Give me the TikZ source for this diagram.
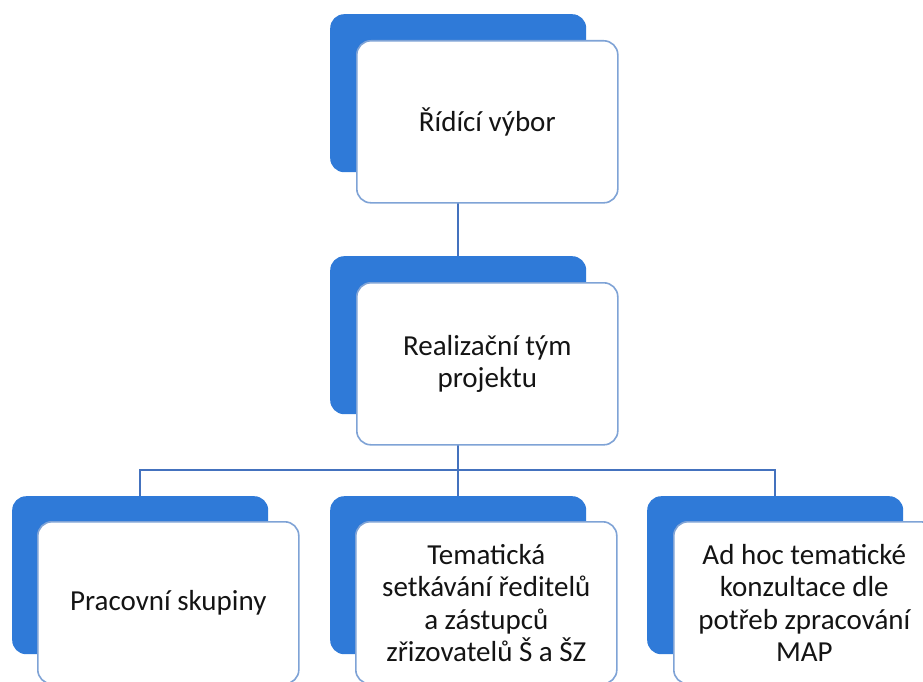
\documentclass[tikz,border=0pt]{standalone}
\usepackage{fontspec}
\setmainfont{Carlito}
\definecolor{boxblue}{HTML}{2F7AD8}
\definecolor{edgeblue}{HTML}{7FA3D6}
\definecolor{linkblue}{HTML}{4472BE}
\definecolor{txt}{HTML}{141414}
\tikzset{
  backbox/.style={fill=boxblue, draw=none, rounded corners=14pt, minimum width=256pt, minimum height=158pt, anchor=north west, inner sep=0pt},
  frontbox/.style={fill=white, draw=edgeblue, line width=1.6pt, rounded corners=14pt, minimum width=261pt, minimum height=162pt, anchor=north west, inner sep=0pt, align=center, text=txt, font=\fontsize{29}{32.5}\selectfont},
  link/.style={draw=linkblue, line width=1.7pt}
}
\begin{document}
\begin{tikzpicture}[x=1pt, y=-1pt]
\clip (0,0) rectangle (923,682);
\fill[white] (0,0) rectangle (923,682);
% back boxes
\node[backbox] (topb) at (330,14) {};
\node[backbox] (midb) at (330,256) {};
\node[backbox] (b1b) at (12,496) {};
\node[backbox] (b2b) at (330,496) {};
\node[backbox] (b3b) at (647,496) {};
% connectors
\draw[link] (topb.center |- 0,203) -- (midb.north);
\coordinate (split) at (midb.center |- 0,470);
\draw[link] (midb.center |- 0,444) -- (split);
\draw[link] (b1b.north) -- (b1b.north |- split) -- (b3b.north |- split) -- (b3b.north);
\draw[link] (split) -- (b2b.north);
% front boxes
\node[frontbox] (top) at (356,40) {Řídící výbor};
\node[frontbox] (mid) at (356,282) {Realizační tým\\projektu};
\node[frontbox] (b1) at (37,521) {Pracovní skupiny};
\node[frontbox] (b2) at (355,521) {Tematická\\setkávání ředitelů\\a zástupců\\zřizovatelů Š a ŠZ};
\node[frontbox] (b3) at (673,521) {Ad hoc tematické\\konzultace dle\\potřeb zpracování\\MAP};
\end{tikzpicture}
\end{document}
